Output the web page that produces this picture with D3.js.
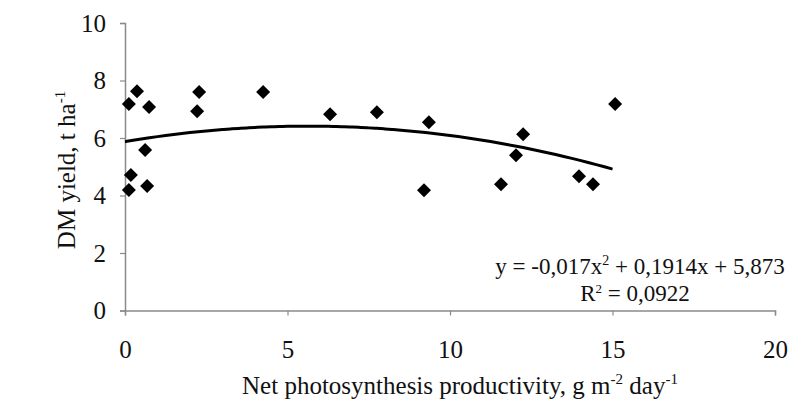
<!DOCTYPE html>
<html>
<head>
<meta charset="utf-8">
<script src="https://cdn.jsdelivr.net/npm/d3@7"></script>
<style>
  html, body { margin: 0; padding: 0; background: #ffffff; }
  svg { display: block; }
  text { font-family: "Liberation Serif", "Times New Roman", serif; fill: #111; }
</style>
</head>
<body>
<svg id="chart" width="789" height="410"></svg>
<script>
// Net photosynthesis productivity (g m-2 day-1) and DM yield (t ha-1)
const npp = [0.12, 0.12, 0.18, 0.37, 0.62, 0.68, 0.74, 2.22, 2.28, 4.25,
             6.31, 7.75, 9.20, 9.35, 11.57, 12.03, 12.25, 13.97, 14.40, 15.08];
const yieldDM = [7.18, 4.19, 4.71, 7.63, 5.58, 4.33, 7.08, 6.93, 7.60, 7.60,
                 6.83, 6.90, 4.18, 6.55, 4.39, 5.40, 6.13, 4.67, 4.39, 7.18];

// Quadratic trendline coefficients (a x^2 + b x + c) and fit quality
const trendCoef = [-0.017, 0.1914, 5.873];
const trendRange = [0, 15.0];
const rSquared = "0,0922";

const xTicks = [0, 5, 10, 15, 20];
const yTicks = [0, 2, 4, 6, 8, 10];

const svg = d3.select("#chart");
const x = d3.scaleLinear().domain([0, 20]).range([125, 775]);
const y = d3.scaleLinear().domain([0, 10]).range([310.5, 23]);

const axisColor = "#8a8a8a";

// Axes
const gx = svg.append("g").attr("transform", `translate(0,${y(0)})`)
  .call(d3.axisBottom(x).tickValues(xTicks).tickSize(5).tickPadding(14).tickFormat(d3.format("d")));
const gy = svg.append("g").attr("transform", `translate(${x(0)},0)`)
  .call(d3.axisLeft(y).tickValues(yTicks).tickSize(5).tickPadding(14).tickFormat(d3.format("d")));
[gx, gy].forEach(g => {
  g.select(".domain").attr("stroke", axisColor).attr("stroke-width", 1.5);
  g.selectAll(".tick line").attr("stroke", axisColor).attr("stroke-width", 1.2);
  g.selectAll(".tick text").attr("font-size", 25).attr("font-family", "Liberation Serif").attr("fill", "#111");
});
gx.selectAll(".tick text").attr("dy", "1.15em");

// Trendline from the fitted equation
const poly = v => trendCoef[0] * v * v + trendCoef[1] * v + trendCoef[2];
const trendPts = d3.range(0, 61).map(i => {
  const v = trendRange[0] + (trendRange[1] - trendRange[0]) * i / 60;
  return [v, poly(v)];
});
svg.append("path")
  .datum(trendPts)
  .attr("fill", "none")
  .attr("stroke", "#000")
  .attr("stroke-width", 3)
  .attr("d", d3.line().x(d => x(d[0])).y(d => y(d[1])).curve(d3.curveMonotoneX));

// Diamond markers
const r = 7;
svg.append("g").selectAll("path")
  .data(npp.map((v, i) => [v, yieldDM[i]]))
  .join("path")
  .attr("transform", d => `translate(${x(d[0])},${y(d[1])})`)
  .attr("d", `M0,${-r}L${r},0L0,${r}L${-r},0Z`)
  .attr("fill", "#000");

// Equation and R²
const eq = svg.append("text").attr("x", 640).attr("y", 274).attr("text-anchor", "middle").attr("font-size", 23);
eq.append("tspan").text("y = -0,017x");
eq.append("tspan").attr("dy", -9).attr("font-size", 14).text("2");
eq.append("tspan").attr("dy", 9).text(" + 0,1914x + 5,873");

const r2 = svg.append("text").attr("x", 635).attr("y", 301).attr("text-anchor", "middle").attr("font-size", 23);
r2.append("tspan").text("R");
r2.append("tspan").attr("dy", -8).attr("font-size", 13).text("2");
r2.append("tspan").attr("dy", 8).text(" = " + rSquared);

// Axis titles
const xt = svg.append("text").attr("x", 460).attr("y", 394).attr("text-anchor", "middle").attr("font-size", 25);
xt.append("tspan").text("Net photosynthesis productivity, g m");
xt.append("tspan").attr("dy", -10).attr("font-size", 15).text("-2");
xt.append("tspan").attr("dy", 10).text(" day");
xt.append("tspan").attr("dy", -10).attr("font-size", 15).text("-1");

const yt = svg.append("text").attr("transform", "translate(75,170) rotate(-90)").attr("text-anchor", "middle").attr("font-size", 25);
yt.append("tspan").text("DM yield, t ha");
yt.append("tspan").attr("dy", -10).attr("font-size", 15).text("-1");
</script>
</body>
</html>
